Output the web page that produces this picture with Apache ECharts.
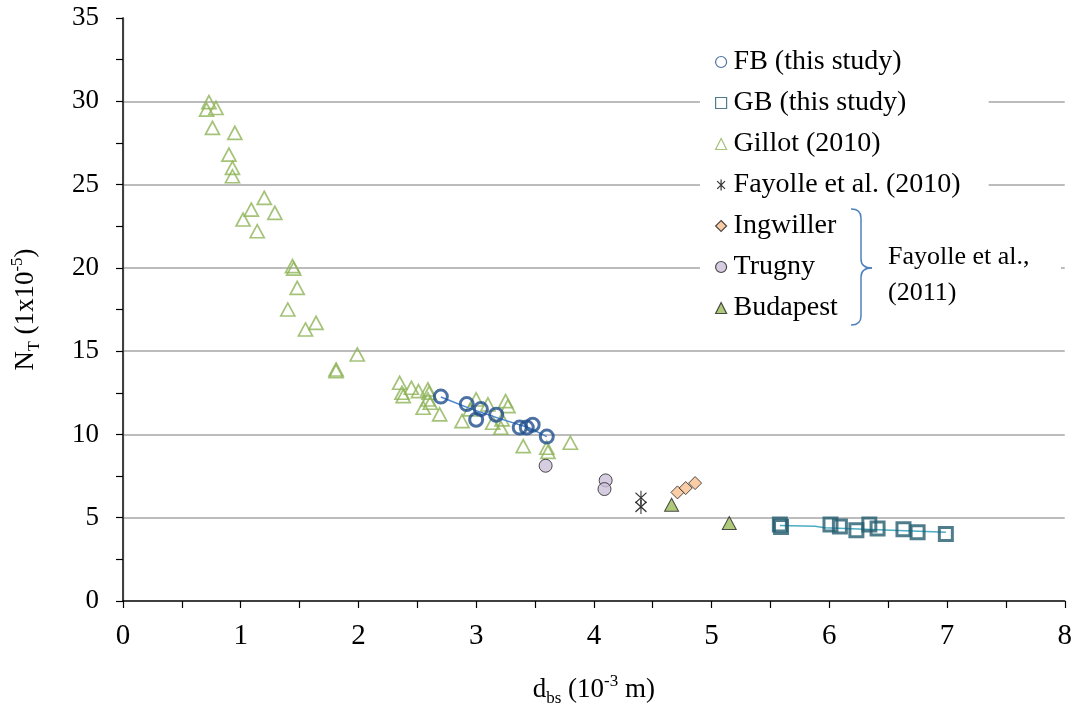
<!DOCTYPE html>
<html>
<head>
<meta charset="utf-8">
<title>N_T vs d_bs</title>
<script src="https://cdn.jsdelivr.net/npm/echarts@6/dist/echarts.min.js"></script>
<style>
  html, body { margin: 0; padding: 0; background: #fff; }
  #chart { width: 1075px; height: 715px; }
</style>
</head>
<body>
<div id="chart"></div>
<script>
// Bubble diameter d_bs (10^-3 m) versus N_T (1x10^-5)
const xTicks = [0, 1, 2, 3, 4, 5, 6, 7, 8];
const yTicks = [0, 5, 10, 15, 20, 25, 30, 35];

const fbData = [
  [2.70, 12.27], [2.92, 11.82], [3.04, 11.52], [3.00, 10.88], [3.17, 11.18],
  [3.37, 10.41], [3.43, 10.41], [3.48, 10.58], [3.60, 9.87]
];
const fbTrend = [[2.70, 12.25], [2.95, 11.55], [3.20, 10.95], [3.45, 10.40], [3.60, 9.87]];

const gbData = [
  [5.58, 4.60], [5.59, 4.45], [6.01, 4.60], [6.09, 4.48], [6.23, 4.25],
  [6.34, 4.60], [6.41, 4.35], [6.63, 4.30], [6.75, 4.12], [6.99, 4.02]
];
const gbTrend = [[5.58, 4.54], [5.88, 4.49], [5.96, 4.40], [6.99, 4.12]];

const gillotData = [
  [0.71, 29.5], [0.73, 29.95], [0.79, 29.6], [0.76, 28.4], [0.95, 28.1],
  [0.90, 26.8], [0.93, 26.0], [0.93, 25.5], [1.20, 24.2], [1.09, 23.5],
  [1.29, 23.3], [1.02, 22.9], [1.14, 22.2], [1.44, 20.1], [1.45, 19.95],
  [1.48, 18.8], [1.40, 17.5], [1.64, 16.7], [1.55, 16.3], [1.99, 14.8],
  [1.81, 13.8], [1.81, 13.9], [2.35, 13.1], [2.37, 12.5], [2.38, 12.3],
  [2.45, 12.8], [2.51, 12.6], [2.59, 12.7], [2.59, 12.1], [2.55, 11.6],
  [2.61, 11.9], [2.60, 12.5], [2.69, 11.2], [2.88, 10.8], [2.95, 11.5],
  [3.00, 12.1], [3.10, 11.8], [3.14, 10.7], [3.21, 10.4], [3.25, 12.0],
  [3.27, 11.7], [3.22, 10.9], [3.40, 9.3], [3.60, 9.2], [3.61, 8.95],
  [3.80, 9.5]
];

const fayolle2010Data = [[4.40, 6.20], [4.40, 5.65]];
const ingwillerData = [[4.71, 6.52], [4.78, 6.78], [4.86, 7.08]];
const trugnyData = [[3.59, 8.12], [4.10, 7.24], [4.09, 6.72]];
const budapestData = [[4.66, 5.78], [5.15, 4.68]];

const seriesNames = [
  'FB (this study)', 'GB (this study)', 'Gillot (2010)', 'Fayolle et al. (2010)',
  'Ingwiller', 'Trugny', 'Budapest'
];

const FONT = 'Liberation Serif';
const asterisk = 'path://M0,2L10,12M10,2L0,12M5,0L5,14';

const chart = echarts.init(document.getElementById('chart'), null, { renderer: 'canvas' });

chart.setOption({
  backgroundColor: '#ffffff',
  animation: false,
  grid: { left: 123, right: 10, top: 18, bottom: 114, containLabel: false },
  xAxis: {
    type: 'value',
    min: xTicks[0],
    max: xTicks[xTicks.length - 1],
    interval: 1,
    name: '{n|d}{s|bs}{n| (10}{p|-3}{n| m)}',
    nameLocation: 'middle',
    nameGap: 72,
    nameTextStyle: {
      fontFamily: FONT, color: '#000',
      rich: {
        n: { fontFamily: FONT, fontSize: 27, color: '#000', lineHeight: 34 },
        s: { fontFamily: FONT, fontSize: 17, color: '#000', verticalAlign: 'bottom', lineHeight: 34, padding: [12, 0, 0, 0] },
        p: { fontFamily: FONT, fontSize: 17, color: '#000', verticalAlign: 'top', lineHeight: 34, padding: [0, 0, 10, 0] }
      }
    },
    axisLine: { show: true, onZero: false, lineStyle: { color: '#000', width: 1.5 } },
    axisTick: { show: true, inside: false, length: 7, lineStyle: { color: '#000', width: 1.2 } },
    minorTick: { show: true, splitNumber: 2, length: 7, lineStyle: { color: '#000', width: 1.2 } },
    splitLine: { show: false },
    axisLabel: { fontFamily: FONT, fontSize: 29, color: '#000', margin: 21 }
  },
  yAxis: [{
    type: 'value',
    min: yTicks[0],
    max: yTicks[yTicks.length - 1],
    interval: 5,
    name: '{n|N}{s|T}{n| (1x10}{p|-5}{n|)}',
    nameLocation: 'middle',
    nameGap: 80,
    nameRotate: 90,
    nameTextStyle: {
      fontFamily: FONT, color: '#000',
      rich: {
        n: { fontFamily: FONT, fontSize: 27, color: '#000', lineHeight: 34 },
        s: { fontFamily: FONT, fontSize: 16, color: '#000', verticalAlign: 'bottom', lineHeight: 34, padding: [12, 0, 0, 0] },
        p: { fontFamily: FONT, fontSize: 17, color: '#000', verticalAlign: 'top', lineHeight: 34, padding: [0, 0, 10, 0] }
      }
    },
    axisLine: { show: true, onZero: false, lineStyle: { color: '#000', width: 1.5 } },
    axisTick: { show: true, inside: false, length: 7, lineStyle: { color: '#000', width: 1.2 } },
    minorTick: { show: true, splitNumber: 2, length: 7, lineStyle: { color: '#000', width: 1.2 } },
    splitLine: { show: true, showMinLine: false, showMaxLine: false, lineStyle: { color: '#a6a6a6', width: 1.5 } },
    axisLabel: { fontFamily: FONT, fontSize: 27, color: '#000', margin: 24 }
  }, {
    type: 'value',
    position: 'right',
    min: yTicks[0],
    max: yTicks[yTicks.length - 1],
    interval: 5,
    axisLine: { show: true, lineStyle: { color: '#404040', width: 1.2 } },
    axisTick: { show: false },
    axisLabel: { show: false },
    splitLine: { show: false }
  }],
  legend: {
    data: seriesNames,
    orient: 'vertical',
    left: 700,
    top: 40,
    padding: [7, 28, 7, 15],
    itemGap: 11,
    itemWidth: 11,
    itemHeight: 11,
    backgroundColor: '#ffffff',
    itemStyle: { borderWidth: 1.2 },
    textStyle: { fontFamily: FONT, fontSize: 28, color: '#000', lineHeight: 30, padding: [0, 0, 0, 2] },
    z: 6
  },
  graphic: [
    { type: 'rect', z: 10, shape: { x: 880, y: 234, width: 181, height: 76 }, style: { fill: '#ffffff' } },
    { type: 'bezierCurve', z: 11, shape: { x1: 851, y1: 209, cpx1: 858, cpy1: 209, cpx2: 861, cpy2: 212, x2: 861, y2: 218 }, style: { stroke: '#4f81bd', lineWidth: 1.5, fill: 'none' } },
    { type: 'line', z: 11, shape: { x1: 861, y1: 218, x2: 861, y2: 259 }, style: { stroke: '#4f81bd', lineWidth: 1.5 } },
    { type: 'bezierCurve', z: 11, shape: { x1: 861, y1: 259, cpx1: 861, cpy1: 265, cpx2: 865, cpy2: 268, x2: 872, y2: 268 }, style: { stroke: '#4f81bd', lineWidth: 1.5, fill: 'none' } },
    { type: 'bezierCurve', z: 11, shape: { x1: 872, y1: 268, cpx1: 865, cpy1: 268, cpx2: 861, cpy2: 271, x2: 861, y2: 277 }, style: { stroke: '#4f81bd', lineWidth: 1.5, fill: 'none' } },
    { type: 'line', z: 11, shape: { x1: 861, y1: 277, x2: 861, y2: 316 }, style: { stroke: '#4f81bd', lineWidth: 1.5 } },
    { type: 'bezierCurve', z: 11, shape: { x1: 861, y1: 316, cpx1: 861, cpy1: 322, cpx2: 858, cpy2: 325, x2: 851, y2: 325 }, style: { stroke: '#4f81bd', lineWidth: 1.5, fill: 'none' } },
    { type: 'text', z: 11, x: 888, y: 257, style: { text: 'Fayolle et al.,', font: '26px "Liberation Serif"', fill: '#000', verticalAlign: 'middle' } },
    { type: 'text', z: 11, x: 888, y: 293, style: { text: '(2011)', font: '26px "Liberation Serif"', fill: '#000', verticalAlign: 'middle' } }
  ],
  series: [
    {
      name: 'Gillot (2010)', type: 'scatter', data: gillotData, z: 3,
      symbol: 'triangle', symbolSize: [14, 13],
      itemStyle: { color: 'rgba(255,255,255,0)', borderColor: '#8db356', borderWidth: 1.7 }
    },
    {
      name: 'FB trend', type: 'line', data: fbTrend, z: 4, symbol: 'none',
      lineStyle: { color: '#4a86cf', width: 1.5 }
    },
    {
      name: 'FB (this study)', type: 'scatter', data: fbData, z: 5,
      symbol: 'circle', symbolSize: 13,
      itemStyle: { color: 'rgba(255,255,255,0)', borderColor: '#1f4e8c', borderWidth: 3 }
    },
    {
      name: 'GB trend', type: 'line', data: gbTrend, z: 4, symbol: 'none',
      lineStyle: { color: '#4bacc6', width: 1.5 }
    },
    {
      name: 'GB (this study)', type: 'scatter', data: gbData, z: 5,
      symbol: 'rect', symbolSize: 13,
      itemStyle: { color: 'rgba(255,255,255,0)', borderColor: '#245d6e', borderWidth: 3 }
    },
    {
      name: 'Fayolle et al. (2010)', type: 'scatter', data: fayolle2010Data, z: 5,
      symbol: asterisk, symbolSize: [11, 14],
      itemStyle: { color: 'rgba(0,0,0,0)', borderColor: '#000', borderWidth: 1.2 }
    },
    {
      name: 'Ingwiller', type: 'scatter', data: ingwillerData, z: 5,
      symbol: 'diamond', symbolSize: 13,
      itemStyle: { color: '#fac090', borderColor: '#222', borderWidth: 1 }
    },
    {
      name: 'Trugny', type: 'scatter', data: trugnyData, z: 5,
      symbol: 'circle', symbolSize: 13,
      itemStyle: { color: '#ccc1da', borderColor: '#222', borderWidth: 1 }
    },
    {
      name: 'Budapest', type: 'scatter', data: budapestData, z: 5,
      symbol: 'triangle', symbolSize: [14, 13],
      itemStyle: { color: '#9bbb59', borderColor: '#222', borderWidth: 1 }
    }
  ]
});
</script>
</body>
</html>
